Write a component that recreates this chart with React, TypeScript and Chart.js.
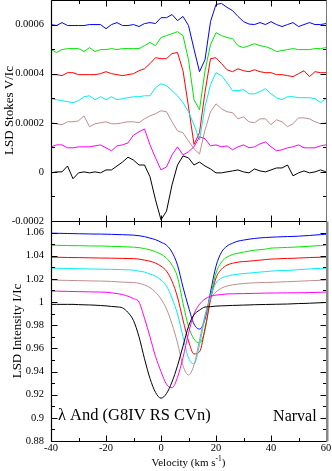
import React, { useEffect, useRef } from 'react';
import { Chart, registerables } from 'chart.js';

Chart.register(...registerables);

// ---------- data ----------
const velocity = [
  -40, -38, -36, -34, -32, -30, -28, -26, -24, -22,
  -20, -18, -16, -14, -12, -10, -8, -6, -4, -2,
  0, 2, 4, 6, 8, 10, 12, 14, 16, 18,
  20, 22, 24, 26, 28, 30, 32, 34, 36, 38,
  40, 42, 44, 46, 48, 50, 52, 54, 56, 58, 60,
];

// Stokes V/Ic (offset profiles as plotted)
const stokesBlack = [
  -0.04e-4, 0, 0, 0.24e-4, -0.28e-4, -0.04e-4, 0, -0.04e-4, 0, -0.04e-4,
  0.08e-4, 0.08e-4, 0.24e-4, 0.40e-4, 0.60e-4, 0.48e-4, 0.28e-4, 0.28e-4, -0.20e-4, -1.14e-4,
  -1.95e-4, -1.60e-4, -0.53e-4, 0.28e-4, 0.65e-4, 0.57e-4, 0.28e-4, 0.40e-4, 0.24e-4, 0.12e-4,
  -0.04e-4, -0.04e-4, 0, 0.04e-4, 0.08e-4, 0, -0.04e-4, 0.12e-4, 0.04e-4, 0,
  0.08e-4, 0.16e-4, 0.16e-4, 0.28e-4, -0.16e-4, -0.04e-4, 0.04e-4, -0.04e-4, 0, 0.08e-4, 0,
];
const stokesMagenta = [
  1.02e-4, 1.10e-4, 1.10e-4, 0.98e-4, 0.98e-4, 1.02e-4, 1.02e-4, 1.02e-4, 1.06e-4, 1.10e-4,
  0.98e-4, 0.86e-4, 1.06e-4, 1.10e-4, 1.18e-4, 1.50e-4, 1.63e-4, 1.75e-4, 1.10e-4, 0.57e-4,
  0.08e-4, 0.20e-4, 0.69e-4, 1.02e-4, 0.69e-4, 0.82e-4, 1.02e-4, 1.43e-4, 1.35e-4, 1.06e-4,
  1.10e-4, 1.02e-4, 1.06e-4, 0.90e-4, 1.02e-4, 1.10e-4, 0.98e-4, 1.02e-4, 1.14e-4, 1.22e-4,
  1.02e-4, 0.86e-4, 0.90e-4, 0.98e-4, 1.02e-4, 1.10e-4, 0.98e-4, 0.98e-4, 0.98e-4, 1.06e-4, 1.10e-4,
];
const stokesBrown = [
  2.00e-4, 1.96e-4, 1.92e-4, 2.04e-4, 2.04e-4, 2.08e-4, 2.28e-4, 1.84e-4, 1.96e-4, 2.00e-4,
  2.04e-4, 1.96e-4, 1.96e-4, 2.00e-4, 2.04e-4, 2.04e-4, 2.00e-4, 2.16e-4, 2.28e-4, 2.37e-4,
  2.49e-4, 2.45e-4, 2.04e-4, 1.67e-4, 1.59e-4, 1.26e-4, 0.94e-4, 0.73e-4, 1.71e-4, 2.45e-4,
  2.77e-4, 2.57e-4, 2.45e-4, 2.41e-4, 2.16e-4, 2.24e-4, 2.04e-4, 2.00e-4, 2.16e-4, 2.16e-4,
  1.92e-4, 2.12e-4, 2.04e-4, 1.84e-4, 1.96e-4, 2.20e-4, 2.20e-4, 2.16e-4, 2.04e-4, 1.96e-4, 2.00e-4,
];
const stokesCyan = [
  2.98e-4, 2.94e-4, 2.90e-4, 2.86e-4, 2.82e-4, 2.90e-4, 3.06e-4, 3.10e-4, 2.94e-4, 3.06e-4,
  2.94e-4, 3.06e-4, 2.94e-4, 2.98e-4, 3.02e-4, 3.06e-4, 3.06e-4, 3.10e-4, 3.10e-4, 3.43e-4,
  3.59e-4, 3.51e-4, 3.31e-4, 3.10e-4, 2.82e-4, 2.45e-4, 1.92e-4, 1.30e-4, 2.65e-4, 3.55e-4,
  4.04e-4, 3.92e-4, 3.63e-4, 3.31e-4, 3.31e-4, 3.35e-4, 3.18e-4, 3.18e-4, 3.27e-4, 3.39e-4,
  3.18e-4, 3.02e-4, 2.94e-4, 3.06e-4, 3.06e-4, 3.02e-4, 3.02e-4, 3.02e-4, 2.98e-4, 2.82e-4, 2.98e-4,
];
const stokesRed = [
  3.96e-4, 3.96e-4, 3.92e-4, 4.04e-4, 4.04e-4, 3.96e-4, 3.96e-4, 3.96e-4, 3.96e-4, 4.00e-4,
  4.08e-4, 4.00e-4, 3.96e-4, 3.92e-4, 3.96e-4, 4.00e-4, 4.12e-4, 4.20e-4, 4.41e-4, 4.65e-4,
  4.61e-4, 4.61e-4, 4.82e-4, 4.86e-4, 4.12e-4, 2.65e-4, 1.12e-4, 1.60e-4, 3.25e-4, 4.61e-4,
  4.65e-4, 4.41e-4, 4.16e-4, 4.08e-4, 4.20e-4, 4.12e-4, 4.08e-4, 4.16e-4, 4.08e-4, 4.04e-4,
  4.04e-4, 3.96e-4, 3.96e-4, 3.92e-4, 3.88e-4, 4.00e-4, 4.12e-4, 3.88e-4, 4.08e-4, 4.04e-4, 4.04e-4,
];
const stokesGreen = [
  4.98e-4, 4.86e-4, 4.98e-4, 5.02e-4, 5.02e-4, 5.02e-4, 4.90e-4, 5.06e-4, 4.90e-4, 4.98e-4,
  4.98e-4, 5.02e-4, 4.98e-4, 5.02e-4, 5.02e-4, 5.02e-4, 5.02e-4, 5.14e-4, 5.27e-4, 5.14e-4,
  5.47e-4, 5.55e-4, 5.63e-4, 5.71e-4, 5.55e-4, 4.57e-4, 2.94e-4, 2.53e-4, 4.12e-4, 5.18e-4,
  5.67e-4, 5.55e-4, 5.47e-4, 5.43e-4, 5.14e-4, 5.06e-4, 5.14e-4, 5.22e-4, 5.14e-4, 5.10e-4,
  5.02e-4, 4.90e-4, 4.94e-4, 4.98e-4, 5.02e-4, 4.98e-4, 4.98e-4, 4.98e-4, 5.02e-4, 5.02e-4, 5.06e-4,
];
const stokesBlue = [
  6.00e-4, 5.96e-4, 6.08e-4, 5.96e-4, 5.96e-4, 5.96e-4, 5.96e-4, 6.00e-4, 6.00e-4, 6.00e-4,
  5.83e-4, 6.00e-4, 6.08e-4, 5.96e-4, 5.96e-4, 6.00e-4, 5.92e-4, 6.04e-4, 6.08e-4, 6.04e-4,
  6.28e-4, 6.28e-4, 6.41e-4, 6.16e-4, 6.33e-4, 5.96e-4, 5.00e-4, 4.08e-4, 4.57e-4, 6.12e-4,
  6.82e-4, 6.86e-4, 6.70e-4, 6.57e-4, 6.33e-4, 6.12e-4, 6.02e-4, 6.00e-4, 6.08e-4, 6.00e-4,
  6.12e-4, 6.00e-4, 5.92e-4, 6.00e-4, 6.08e-4, 5.92e-4, 6.00e-4, 6.08e-4, 6.00e-4, 6.00e-4, 6.04e-4,
];

// Intensity I/Ic (offset profiles as plotted)
const intensityBlack = [
  0.998, 0.998, 0.998, 0.998, 0.998, 0.9978, 0.9976, 0.9975, 0.9973, 0.997,
  0.9967, 0.9962, 0.9958, 0.995, 0.991, 0.984, 0.970, 0.951, 0.934, 0.922,
  0.917, 0.921, 0.931, 0.945, 0.962, 0.979, 0.989, 0.993, 0.9957, 0.996,
  0.9965, 0.9967, 0.9969, 0.9971, 0.9972, 0.9974, 0.9975, 0.9977, 0.9978, 0.9979,
  0.998, 0.9981, 0.9982, 0.9983, 0.9985, 0.9987, 0.9988, 0.999, 0.9992, 0.9994, 0.9996,
];
const intensityMagenta = [
  1.0095, 1.0094, 1.0093, 1.0092, 1.0091, 1.009, 1.0089, 1.0088, 1.0087, 1.0086,
  1.0085, 1.008, 1.0073, 1.0065, 1.005, 1.003, 1.0, 0.986, 0.970, 0.953,
  0.940, 0.929, 0.926, 0.935, 0.952, 0.973, 0.9897, 0.998, 1.0026, 1.005,
  1.006, 1.0065, 1.007, 1.0071, 1.0072, 1.0073, 1.0074, 1.0075, 1.0076, 1.0077,
  1.0078, 1.0078, 1.0079, 1.0079, 1.008, 1.008, 1.0081, 1.0082, 1.0083, 1.0085, 1.0086,
];
const intensityBrown = [
  1.019, 1.0189, 1.0188, 1.0187, 1.0186, 1.0185, 1.0184, 1.0183, 1.0182, 1.0181,
  1.018, 1.0178, 1.0175, 1.0172, 1.017, 1.0168, 1.0162, 1.0147, 1.0125, 1.0086,
  1.0026, 0.994, 0.981, 0.9647, 0.945, 0.937, 0.9457, 0.967, 0.9888, 1.0026,
  1.0086, 1.012, 1.0138, 1.0148, 1.0155, 1.016, 1.0164, 1.0166, 1.0168, 1.0169,
  1.017, 1.0172, 1.0174, 1.0176, 1.0178, 1.018, 1.0182, 1.0184, 1.0186, 1.0188, 1.019,
];
const intensityCyan = [
  1.0293, 1.0292, 1.0291, 1.029, 1.0289, 1.0288, 1.0287, 1.0286, 1.0285, 1.0284,
  1.0283, 1.0282, 1.0281, 1.028, 1.0278, 1.0276, 1.0267, 1.0259, 1.0241, 1.0224,
  1.019, 1.0138, 1.0034, 0.9897, 0.970, 0.9517, 0.9466, 0.963, 0.987, 1.005,
  1.0164, 1.0207, 1.0224, 1.0234, 1.0241, 1.0246, 1.025, 1.0255, 1.0259, 1.0263,
  1.0267, 1.027, 1.0272, 1.0274, 1.0276, 1.028, 1.0283, 1.0286, 1.0289, 1.0291, 1.0293,
];
const intensityRed = [
  1.0388, 1.0387, 1.0386, 1.0385, 1.0384, 1.0384, 1.0383, 1.0382, 1.0381, 1.038,
  1.038, 1.0379, 1.0378, 1.0377, 1.0376, 1.0375, 1.0371, 1.0362, 1.0353, 1.0336,
  1.031, 1.0267, 1.018, 1.0043, 0.9845, 0.9664, 0.9552, 0.957, 0.977, 1.0017,
  1.0207, 1.0284, 1.0319, 1.0335, 1.0345, 1.035, 1.0353, 1.0358, 1.0362, 1.0367,
  1.0371, 1.0373, 1.0375, 1.0377, 1.0378, 1.038, 1.0382, 1.0384, 1.0386, 1.0387, 1.0388,
];
const intensityGreen = [
  1.0491, 1.049, 1.0489, 1.0488, 1.0487, 1.0487, 1.0486, 1.0485, 1.0484, 1.0484,
  1.0483, 1.0481, 1.048, 1.0478, 1.0476, 1.0474, 1.047, 1.0462, 1.0451, 1.0435,
  1.0414, 1.0379, 1.0319, 1.0216, 0.999, 0.979, 0.968, 0.9647, 0.9759, 1.0043,
  1.025, 1.0345, 1.0388, 1.041, 1.0422, 1.0431, 1.044, 1.0448, 1.0452, 1.0457,
  1.0466, 1.0468, 1.047, 1.0472, 1.0474, 1.0476, 1.0479, 1.0482, 1.0485, 1.0488, 1.0491,
];
const intensityBlue = [
  1.0595, 1.0594, 1.0593, 1.0592, 1.0591, 1.059, 1.0589, 1.0588, 1.0587, 1.0587,
  1.0586, 1.0585, 1.0583, 1.0582, 1.058, 1.0578, 1.0573, 1.0565, 1.0552, 1.0539,
  1.0517, 1.0491, 1.0431, 1.0319, 1.0129, 0.9957, 0.981, 0.9767, 0.9853, 1.0086,
  1.031, 1.0431, 1.0483, 1.0508, 1.0526, 1.0535, 1.0543, 1.0549, 1.0554, 1.0557,
  1.056, 1.0562, 1.0564, 1.0566, 1.0567, 1.0569, 1.0572, 1.0575, 1.0579, 1.0582, 1.0586,
];

// ---------- ticks / labels ----------
const velocityTicks = [-40, -20, 0, 20, 40, 60];
const velocityMinorTicks = [-30, -10, 10, 30, 50];
const stokesTicks = [-0.0002, 0, 0.0002, 0.0004, 0.0006];
const stokesMinorTicks = [-0.0001, 0.0001, 0.0003, 0.0005];
const intensityTicks = [0.88, 0.9, 0.92, 0.94, 0.96, 0.98, 1, 1.02, 1.04, 1.06];
const intensityMinorTicks = [0.89, 0.91, 0.93, 0.95, 0.97, 0.99, 1.01, 1.03, 1.05];

const seriesColors = ['#000000', '#ff00ff', '#bc8f8f', '#00eeee', '#ff0000', '#00e600', '#0000ff'];
const stokesSeries = [stokesBlack, stokesMagenta, stokesBrown, stokesCyan, stokesRed, stokesGreen, stokesBlue];
const intensitySeries = [intensityBlack, intensityMagenta, intensityBrown, intensityCyan, intensityRed, intensityGreen, intensityBlue];

const stokesTitle = 'LSD Stokes V/Ic';
const intensityTitle = 'LSD Intensity I/Ic';
const starLabel = 'λ And (G8IV RS CVn)';
const instrumentLabel = 'Narval';

const SERIF = "'Liberation Serif', 'Times New Roman', serif";

type FrameOpts = {
  yMajor: number[];
  yMinor: number[];
  yTitle: string;
  yTitleX: number;
  rightColor: string;
  rightWidth: number;
  drawBottomExtras: boolean;
};

function makeFramePlugin(o: FrameOpts) {
  return {
    id: 'frameTicks',
    afterDraw(chart: any) {
      const { ctx, chartArea: a, scales } = chart;
      const xs = scales.x;
      const ys = scales.y;
      const L = Math.floor(a.left) + 0.5;
      const R = Math.floor(a.right) + 0.5;
      const T = Math.floor(a.top) + 0.5;
      const B = Math.floor(a.bottom) + 0.5;
      ctx.save();
      ctx.strokeStyle = '#000';
      ctx.lineWidth = 1;
      const seg = (x1: number, y1: number, x2: number, y2: number) => {
        ctx.beginPath();
        ctx.moveTo(x1, y1);
        ctx.lineTo(x2, y2);
        ctx.stroke();
      };
      const major = 6;
      const minor = 3.5;
      velocityTicks.forEach((v) => {
        const px = Math.round(xs.getPixelForValue(v)) + 0.5;
        seg(px, B, px, B - major);
        seg(px, T, px, T + major);
      });
      velocityMinorTicks.forEach((v) => {
        const px = Math.round(xs.getPixelForValue(v)) + 0.5;
        seg(px, B, px, B - minor);
        seg(px, T, px, T + minor);
      });
      o.yMajor.forEach((v) => {
        const py = Math.round(ys.getPixelForValue(v)) + 0.5;
        seg(L, py, L + major, py);
        seg(R, py, R - major, py);
      });
      o.yMinor.forEach((v) => {
        const py = Math.round(ys.getPixelForValue(v)) + 0.5;
        seg(L, py, L + minor, py);
        seg(R, py, R - minor, py);
      });
      // frame
      ctx.lineWidth = 1.2;
      seg(L, T, R, T);
      seg(L, B, R, B);
      seg(L, T, L, B);
      ctx.strokeStyle = o.rightColor;
      ctx.lineWidth = o.rightWidth;
      seg(R + (o.rightWidth - 1) / 2, T, R + (o.rightWidth - 1) / 2, B);

      // y-axis title
      ctx.fillStyle = '#000';
      ctx.font = `13px ${SERIF}`;
      ctx.textAlign = 'center';
      ctx.textBaseline = 'middle';
      ctx.save();
      ctx.translate(o.yTitleX, (a.top + a.bottom) / 2);
      ctx.rotate(-Math.PI / 2);
      ctx.fillText(o.yTitle, 0, 0);
      ctx.restore();

      if (o.drawBottomExtras) {
        // annotations
        ctx.font = `16.5px ${SERIF}`;
        ctx.textBaseline = 'alphabetic';
        ctx.textAlign = 'left';
        ctx.fillText(starLabel, xs.getPixelForValue(-37.5), ys.getPixelForValue(0.898));
        ctx.font = `16px ${SERIF}`;
        ctx.textAlign = 'right';
        ctx.fillText(instrumentLabel, xs.getPixelForValue(56.6), ys.getPixelForValue(0.8975));

        // x-axis title with superscript
        const main = 'Velocity (km s';
        const sup = '-1';
        const close = ')';
        ctx.font = `11px ${SERIF}`;
        const w1 = ctx.measureText(main).width;
        const w3 = ctx.measureText(close).width;
        ctx.font = `7.5px ${SERIF}`;
        const w2 = ctx.measureText(sup).width;
        const cx = (a.left + a.right) / 2;
        let x0 = cx - (w1 + w2 + w3) / 2;
        const base = a.bottom + 25;
        ctx.textAlign = 'left';
        ctx.font = `11px ${SERIF}`;
        ctx.fillText(main, x0, base);
        ctx.font = `7.5px ${SERIF}`;
        ctx.fillText(sup, x0 + w1, base - 5);
        ctx.font = `11px ${SERIF}`;
        ctx.fillText(close, x0 + w1 + w2, base);
      }
      ctx.restore();
    },
  };
}

function buildDatasets(series: number[][], smooth: boolean) {
  return series.map((arr, i) => ({
    data: velocity.map((v, k) => ({ x: v, y: arr[k] })),
    borderColor: seriesColors[i],
    backgroundColor: seriesColors[i],
    borderWidth: 1,
    pointRadius: 0,
    fill: false,
    tension: 0,
    cubicInterpolationMode: smooth ? ('monotone' as const) : ('default' as const),
  }));
}

const tickFont = { family: SERIF, size: 10.5 };

export default function App() {
  const topRef = useRef<HTMLCanvasElement>(null);
  const botRef = useRef<HTMLCanvasElement>(null);

  useEffect(() => {
    const top = new Chart(topRef.current as HTMLCanvasElement, {
      type: 'line',
      data: { datasets: buildDatasets(stokesSeries, false) as any },
      options: {
        animation: false,
        responsive: false,
        devicePixelRatio: 1,
        layout: { padding: { left: 0, right: 6, top: 0, bottom: 0 } },
        plugins: { legend: { display: false }, tooltip: { enabled: false } },
        scales: {
          x: {
            type: 'linear',
            min: -40,
            max: 60,
            ticks: { display: false },
            grid: { display: false, drawTicks: false },
            border: { display: false },
            afterFit: (s: any) => {
              s.height = 9;
              s.paddingLeft = 0;
              s.paddingRight = 0;
            },
          },
          y: {
            type: 'linear',
            min: -0.0002,
            max: 0.0007,
            afterBuildTicks: (s: any) => {
              s.ticks = stokesTicks.map((v) => ({ value: v }));
            },
            ticks: {
              font: tickFont,
              color: '#000',
              padding: 7,
              callback: (v: any) => String(Number(Number(v).toFixed(4))),
            },
            grid: { display: false, drawTicks: false },
            border: { display: false },
            afterFit: (s: any) => {
              s.width = 51;
              s.paddingTop = 0;
              s.paddingBottom = 0;
            },
          },
        },
      },
      plugins: [
        makeFramePlugin({
          yMajor: stokesTicks,
          yMinor: stokesMinorTicks,
          yTitle: stokesTitle,
          yTitleX: 10,
          rightColor: '#777',
          rightWidth: 1,
          drawBottomExtras: false,
        }),
      ],
    } as any);

    const bot = new Chart(botRef.current as HTMLCanvasElement, {
      type: 'line',
      data: { datasets: buildDatasets(intensitySeries, true) as any },
      options: {
        animation: false,
        responsive: false,
        devicePixelRatio: 1,
        layout: { padding: { left: 0, right: 6, top: 0, bottom: 0 } },
        plugins: { legend: { display: false }, tooltip: { enabled: false } },
        scales: {
          x: {
            type: 'linear',
            min: -40,
            max: 60,
            afterBuildTicks: (s: any) => {
              s.ticks = velocityTicks.map((v) => ({ value: v }));
            },
            ticks: {
              font: tickFont,
              color: '#000',
              padding: 1,
              maxRotation: 0,
              autoSkip: false,
              callback: (v: any) => String(v),
            },
            grid: { display: false, drawTicks: false },
            border: { display: false },
            afterFit: (s: any) => {
              s.height = 30;
              s.paddingLeft = 0;
              s.paddingRight = 0;
            },
          },
          y: {
            type: 'linear',
            min: 0.88,
            max: 1.07,
            afterBuildTicks: (s: any) => {
              s.ticks = intensityTicks.map((v) => ({ value: v }));
            },
            ticks: {
              font: tickFont,
              color: '#000',
              padding: 7,
              autoSkip: false,
              callback: (v: any) => String(Number(Number(v).toFixed(2))),
            },
            grid: { display: false, drawTicks: false },
            border: { display: false },
            afterFit: (s: any) => {
              s.width = 51;
              s.paddingTop = 0;
              s.paddingBottom = 0;
            },
          },
        },
      },
      plugins: [
        makeFramePlugin({
          yMajor: intensityTicks,
          yMinor: intensityMinorTicks,
          yTitle: intensityTitle,
          yTitleX: 18,
          rightColor: '#888',
          rightWidth: 2.5,
          drawBottomExtras: true,
        }),
      ],
    } as any);

    return () => {
      top.destroy();
      bot.destroy();
    };
  }, []);

  return (
    <div style={{ position: 'absolute', left: 0, top: 0, width: 332, height: 471, background: '#fff', overflow: 'hidden' }}>
      <canvas
        ref={topRef}
        width={332}
        height={230}
        style={{ position: 'absolute', left: 0, top: 0, width: 332, height: 230 }}
      />
      <canvas
        ref={botRef}
        width={332}
        height={250}
        style={{ position: 'absolute', left: 0, top: 221, width: 332, height: 250 }}
      />
    </div>
  );
}
